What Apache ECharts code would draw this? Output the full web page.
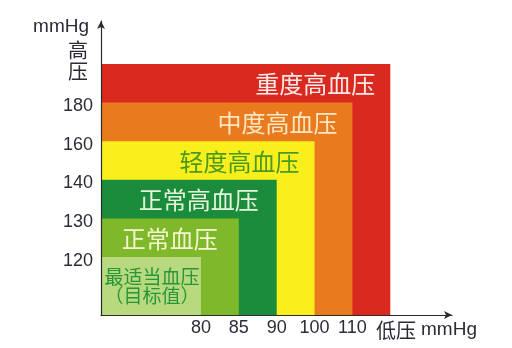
<!DOCTYPE html>
<html>
<head>
<meta charset="utf-8">
<style>
  html, body { margin: 0; padding: 0; background: #ffffff; }
  #chart { width: 512px; height: 348px; }
</style>
<script src="https://cdn.jsdelivr.net/npm/echarts@6/dist/echarts.min.js"></script>
</head>
<body>
<div id="chart"></div>
<script>
// Threshold tick labels (boundaries of each zone)
const systolic = [120, 130, 140, 160, 180];   // 高压 (mmHg)
const diastolic = [80, 85, 90, 100, 110];     // 低压 (mmHg)

// Zones from innermost to outermost
const zoneNames = ['最适当血压\n（目标值）', '正常血压', '正常高血压', '轻度高血压', '中度高血压', '重度高血压'];
// Upper boundary of each zone, as an index into the threshold lists (last zone is open-ended)
const zoneUpperX = [0, 1, 2, 3, 4, 5];
const zoneUpperY = [0, 1, 2, 3, 4, 5];

// Zone appearance
const zoneFill = ['#b8d97e', '#7fb82a', '#1b8c3c', '#f9ef1c', '#e97a1d', '#da2a1f'];
const zoneText = ['#27963a', '#f4f6cf', '#e6f4dc', '#4a9a20', '#fbe7c4', '#fbe9ea'];
const zoneFont = [19, 24, 24, 24, 24, 24];
const zonePad = [0, 21, 18, 15, 15, 15];

const chart = echarts.init(document.getElementById('chart'), null, { renderer: 'canvas' });

const zoneData = zoneNames.map((name, k) => [zoneUpperX[k], zoneUpperY[k], k]).reverse();

const X_MIN = -2.64, X_MAX = 6.63;
const Y_MIN = -1.5, Y_MAX = 6.11;

function renderZone(params, api) {
  const k = api.value(2);
  const origin = api.coord([X_MIN, Y_MIN]);
  const corner = api.coord([api.value(0), api.value(1)]);
  const below = k === 0 ? origin[1] : api.coord([0, api.value(1) - 1])[1];
  const children = [{
    type: 'rect',
    shape: { x: origin[0], y: corner[1], width: corner[0] - origin[0], height: origin[1] - corner[1] },
    style: { fill: zoneFill[k] }
  }];
  const textStyle = {
    text: zoneNames[k],
    fill: zoneText[k],
    fontFamily: '"Noto Sans CJK SC", sans-serif',
    fontSize: zoneFont[k],
    verticalAlign: 'middle'
  };
  if (k === 0) {
    textStyle.x = (origin[0] + corner[0]) / 2 + 1;
    textStyle.y = (origin[1] + corner[1]) / 2;
    textStyle.align = 'center';
    textStyle.lineHeight = 19;
  } else {
    textStyle.x = corner[0] - zonePad[k];
    textStyle.y = (corner[1] + below) / 2 + 1;
    textStyle.align = 'right';
  }
  children.push({ type: 'text', style: textStyle });
  return { type: 'group', children: children };
}

const axisLine = {
  show: true,
  onZero: false,
  symbol: ['none', 'arrow'],
  symbolSize: [6, 8],
  lineStyle: { color: '#2b2b2b', width: 1.2 }
};
const tickFont = { color: '#2c2c38', fontSize: 18, fontFamily: 'Liberation Sans, Arial, sans-serif' };

chart.setOption({
  animation: false,
  backgroundColor: '#ffffff',
  grid: { left: 101, top: 21, width: 351, height: 294 },
  xAxis: {
    type: 'value', min: X_MIN, max: X_MAX, z: 10,
    axisLine: axisLine,
    axisTick: { show: false },
    splitLine: { show: false },
    axisLabel: Object.assign({
      margin: 4,
      customValues: diastolic.map((v, i) => i),
      formatter: v => String(diastolic[Math.round(v)])
    }, tickFont)
  },
  yAxis: {
    type: 'value', min: Y_MIN, max: Y_MAX, z: 10,
    axisLine: axisLine,
    axisTick: { show: false },
    splitLine: { show: false },
    axisLabel: Object.assign({
      margin: 8,
      verticalAlign: 'top',
      lineHeight: 7,
      customValues: systolic.map((v, i) => i),
      formatter: v => String(systolic[Math.round(v)])
    }, tickFont)
  },
  graphic: [
    { type: 'text', x: 89, y: 27, style: { text: 'mmHg', align: 'right', verticalAlign: 'middle', fill: '#2c2c38', fontSize: 19, fontFamily: 'Liberation Sans, Arial, sans-serif' } },
    { type: 'text', x: 78, y: 50, style: { text: '高', align: 'center', verticalAlign: 'middle', fill: '#2c2c38', fontSize: 20, fontFamily: '"Noto Sans CJK SC", sans-serif' } },
    { type: 'text', x: 78, y: 71, style: { text: '压', align: 'center', verticalAlign: 'middle', fill: '#2c2c38', fontSize: 20, fontFamily: '"Noto Sans CJK SC", sans-serif' } },
    { type: 'text', x: 376, y: 330, style: { text: '低压', align: 'left', verticalAlign: 'middle', fill: '#2c2c38', fontSize: 20, fontFamily: '"Noto Sans CJK SC", sans-serif' } },
    { type: 'text', x: 421, y: 330, style: { text: 'mmHg', align: 'left', verticalAlign: 'middle', fill: '#2c2c38', fontSize: 19, fontFamily: 'Liberation Sans, Arial, sans-serif' } }
  ],
  series: [{
    type: 'custom',
    coordinateSystem: 'cartesian2d',
    renderItem: renderZone,
    encode: { x: 0, y: 1 },
    data: zoneData,
    silent: true
  }]
});
</script>
</body>
</html>
